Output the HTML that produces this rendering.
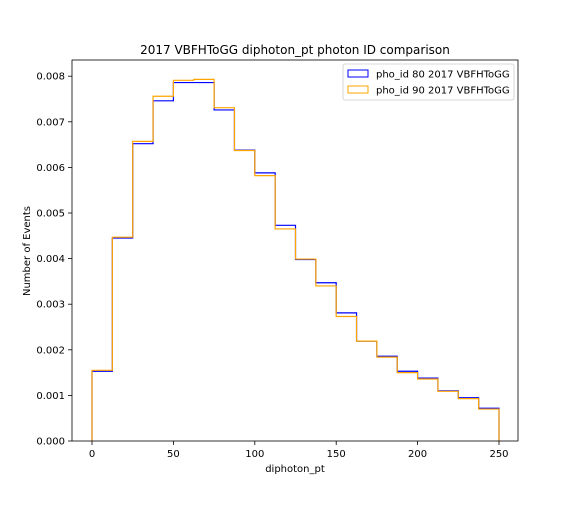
<!DOCTYPE html>
<html><head><meta charset="utf-8"><style>
body{margin:0;background:#fff;font-family:"Liberation Sans","DejaVu Sans",sans-serif}
</style></head><body>
<svg id="c" width="576" height="504" xmlns="http://www.w3.org/2000/svg" font-family="DejaVu Sans, Liberation Sans, sans-serif"></svg>
<script>
const binEdges=[0,12.5,25,37.5,50,62.5,75,87.5,100,112.5,125,137.5,150,162.5,175,187.5,200,212.5,225,237.5,250];
const blueVals=[0.00153,0.00445,0.00652,0.00746,0.00786,0.00786,0.00726,0.00638,0.00588,0.00473,0.00398,0.00347,0.00281,0.00219,0.00186,0.00153,0.00138,0.00110,0.00095,0.00072];
const orangeVals=[0.00155,0.00447,0.00657,0.00756,0.00791,0.00793,0.00731,0.00637,0.00582,0.00465,0.00399,0.00340,0.00273,0.00219,0.00184,0.00150,0.00136,0.00109,0.00093,0.00070];
const xTicks=[0,50,100,150,200,250];
const yTicks=[0,0.001,0.002,0.003,0.004,0.005,0.006,0.007,0.008];
const L=72,R=518,T=60,B=441;
const xs=v=>92+v*(407/250);
const ys=v=>B-v*45.6/0.001;
const svg=document.getElementById('c');
const NS='http://www.w3.org/2000/svg';
function mk(t,a,p){const e=document.createElementNS(NS,t);for(const k in a)e.setAttribute(k,a[k]);(p||svg).appendChild(e);return e;}
function hist(vals,color,name){
 let d='M'+xs(binEdges[0])+','+ys(0);
 vals.forEach((v,i)=>{d+=' L'+xs(binEdges[i])+','+ys(v)+' L'+xs(binEdges[i+1])+','+ys(v);});
 d+=' L'+xs(binEdges[vals.length])+','+ys(0);
 const p=mk('path',{d:d,fill:'none',stroke:color,'stroke-width':1.2});
 
 
}
hist(blueVals,'#0000ff','series-pho-id-80');
hist(orangeVals,'#ffa500','series-pho-id-90');
const fr=mk('rect',{x:L,y:T,width:R-L,height:B-T,fill:'none',stroke:'#000','stroke-width':0.8});


xTicks.forEach(v=>{
 mk('line',{x1:xs(v),x2:xs(v),y1:B,y2:B+4,stroke:'#000','stroke-width':0.8});
 const t=mk('text',{x:xs(v),y:B+16,'text-anchor':'middle','font-size':10});t.textContent=v;
 
 
});
yTicks.forEach(v=>{
 mk('line',{x1:L-4,x2:L,y1:ys(v),y2:ys(v),stroke:'#000','stroke-width':0.8});
 const t=mk('text',{x:L-7,y:ys(v)+3.5,'text-anchor':'end','font-size':10});t.textContent=v.toFixed(3);
 
 
});
let t=mk('text',{x:295,y:472,'text-anchor':'middle','font-size':10});t.textContent='diphoton_pt';


t=mk('text',{x:30,y:251,'text-anchor':'middle','font-size':10,transform:'rotate(-90 30 251)'});t.textContent='Number of Events';


t=mk('text',{x:295,y:54,'text-anchor':'middle','font-size':12});t.textContent='2017 VBFHToGG diphoton_pt photon ID comparison';


const lg=mk('g',{});


mk('rect',{x:343,y:64,width:171,height:36,rx:2,fill:'#fff',stroke:'#ccc','stroke-width':0.8},lg);
[['#0000ff','pho_id 80 2017 VBFHToGG',74],['#ffa500','pho_id 90 2017 VBFHToGG',90]].forEach(([c,s,y],i)=>{
 const g=mk('g',{},lg);
 
 
 mk('rect',{x:348,y:y-4,width:20,height:7,fill:'none',stroke:c,'stroke-width':1},g);
 const tx=mk('text',{x:376,y:y+3.5,'font-size':10},g);tx.textContent=s;
});
</script>
</body></html>
